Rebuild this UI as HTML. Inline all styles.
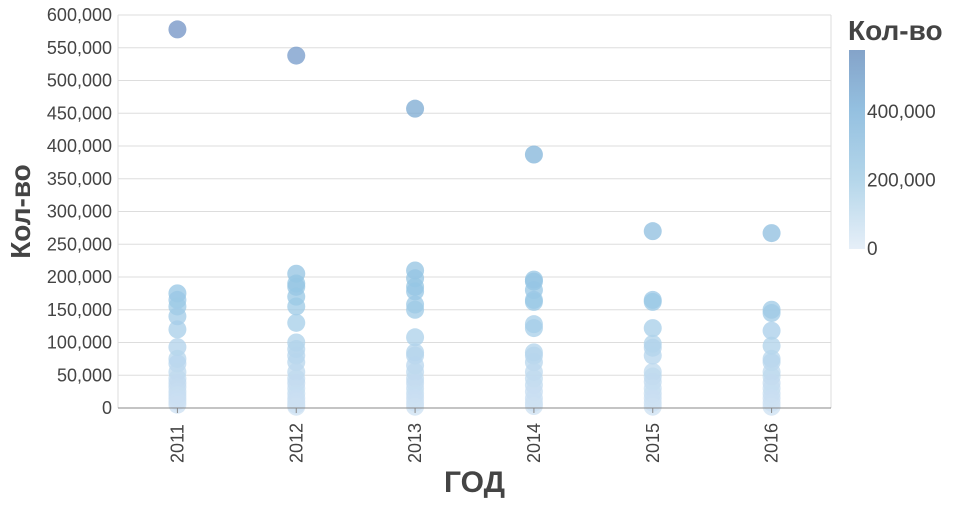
<!DOCTYPE html>
<html><head><meta charset="utf-8"><style>
body{margin:0;background:#fff;font-family:"Liberation Sans","DejaVu Sans",sans-serif}
svg text{fill:#444}
</style></head><body>
<svg id="c" width="960" height="500" xmlns="http://www.w3.org/2000/svg">
<defs><linearGradient id="g" x1="0" y1="1" x2="0" y2="0">
<stop offset="0" stop-color="#e6eff8"/><stop offset="0.35" stop-color="#b4d6ea"/><stop offset="0.7" stop-color="#94c0e0"/><stop offset="1" stop-color="#84a3c9"/></linearGradient></defs>
<g id="grid"></g><g id="pts"></g><g id="axes"></g>
</svg>
<script>
const years=["2011","2012","2013","2014","2015","2016"];
const yTicks=[0,50000,100000,150000,200000,250000,300000,350000,400000,450000,500000,550000,600000];
const v2011=[578,175,165,155,140,120,93,75,68,55,45,38,32,25,20,15,10,5];
const v2012=[538,205,190,185,170,155,130,100,90,80,70,55,45,38,30,22,15,10,5,2];
const v2013=[457,210,198,185,178,158,150,108,85,80,65,55,45,38,30,22,15,8,2];
const v2014=[387,196,193,180,165,162,128,122,85,80,70,55,45,35,25,15,8,3];
const v2015=[270,165,162,122,98,92,80,55,48,40,30,22,15,8,2];
const v2016=[267,150,145,118,95,75,70,55,48,38,30,22,15,8,2];
const series=[v2011,v2012,v2013,v2014,v2015,v2016];
const NS="http://www.w3.org/2000/svg";
const L=118,R=831,T=15,B=408,MAX=600000,CMAX=580000;
const y=v=>B-(v/MAX)*(B-T);
const bw=(R-L)/years.length;
const x=i=>L+bw*(i+0.5);
function mix(a,b,t){return a.map((c,k)=>Math.round(c+(b[k]-c)*t));}
const stops=[[0,[205,224,242]],[0.3,[150,198,228]],[0.7,[128,178,216]],[1,[112,146,196]]];
function color(v){let t=Math.min(1,v/CMAX);for(let k=1;k<stops.length;k++){if(t<=stops[k][0]){const a=stops[k-1],b=stops[k];const c=mix(a[1],b[1],(t-a[0])/(b[0]-a[0]));return `rgb(${c})`;}}return 'rgb(112,146,196)';}
function el(tag,attrs,parent,txt){const e=document.createElementNS(NS,tag);for(const k in attrs)e.setAttribute(k,attrs[k]);if(txt!==undefined)e.textContent=txt;parent.appendChild(e);return e;}
const grid=document.getElementById('grid'),pts=document.getElementById('pts'),ax=document.getElementById('axes');
yTicks.forEach(t=>{
 const ln=el('line',{x1:L,x2:R,y1:y(t),y2:y(t),stroke:'#ddd'},grid);
 
 
 const tx=el('text',{x:L-6,y:y(t)+6,'text-anchor':'end','font-size':'18'},ax,t.toLocaleString('en-US'));
 
 
});
el('line',{x1:R,x2:R,y1:T,y2:B,stroke:'#ddd'},grid);
el('line',{x1:L,x2:L,y1:T,y2:B,stroke:'#ddd'},grid);
years.forEach((yr,i)=>{
 el('line',{x1:x(i),x2:x(i),y1:B,y2:B+5,stroke:'#888'},ax);
 const tx=el('text',{transform:`translate(${x(i)+6},${B+55}) rotate(-90)`,'font-size':'18'},ax,yr);
 
 
 series[i].forEach(v=>{
  const c=el('circle',{cx:x(i),cy:y(v*1000),r:9,fill:color(v*1000),'fill-opacity':0.75},pts);
  
  
 });
});
el('line',{x1:L,x2:R,y1:B,y2:B,stroke:'#888'},ax);
const xt=el('text',{x:(L+R)/2,y:492,'text-anchor':'middle','font-size':'30','font-weight':'bold'},ax,'ГОД');

const yt=el('text',{transform:`translate(30,${(T+B)/2}) rotate(-90)`,'text-anchor':'middle','font-size':'28','font-weight':'bold'},ax,'Кол-во');

const lt=el('text',{x:848,y:40,'font-size':'28','font-weight':'bold'},ax,'Кол-во');

const gr=el('rect',{x:849,y:50,width:16,height:199,fill:'url(#g)'},ax);

[0,200000,400000].forEach(v=>{
 const ty=249-v/CMAX*199;
 const tx=el('text',{x:867,y:ty+6,'font-size':'19'},ax,v.toLocaleString('en-US'));
 
 
});
</script>
</body></html>
